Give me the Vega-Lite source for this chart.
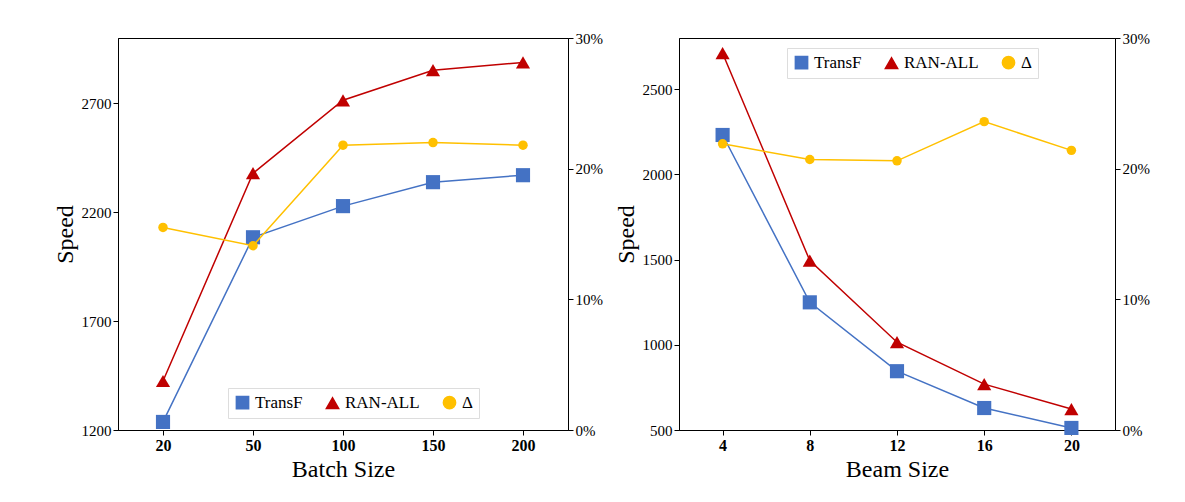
{
  "$schema": "https://vega.github.io/schema/vega-lite/v6.json",
  "padding": {"left": 52, "top": 30, "right": 5, "bottom": 5},
  "datasets": {
    "batch": [
      {"x": "20", "series": "TransF", "v": 1237}, {"x": "50", "series": "TransF", "v": 2085}, {"x": "100", "series": "TransF", "v": 2228}, {"x": "150", "series": "TransF", "v": 2338}, {"x": "200", "series": "TransF", "v": 2370},
      {"x": "20", "series": "RAN-ALL", "v": 1425}, {"x": "50", "series": "RAN-ALL", "v": 2379}, {"x": "100", "series": "RAN-ALL", "v": 2714}, {"x": "150", "series": "RAN-ALL", "v": 2852}, {"x": "200", "series": "RAN-ALL", "v": 2888},
      {"x": "20", "series": "Δ", "v": 0.155}, {"x": "50", "series": "Δ", "v": 0.141}, {"x": "100", "series": "Δ", "v": 0.218}, {"x": "150", "series": "Δ", "v": 0.220}, {"x": "200", "series": "Δ", "v": 0.218}
    ],
    "beam": [
      {"x": "4", "series": "TransF", "v": 2231}, {"x": "8", "series": "TransF", "v": 1249}, {"x": "12", "series": "TransF", "v": 845}, {"x": "16", "series": "TransF", "v": 629}, {"x": "20", "series": "TransF", "v": 512},
      {"x": "4", "series": "RAN-ALL", "v": 2711}, {"x": "8", "series": "RAN-ALL", "v": 1494}, {"x": "12", "series": "RAN-ALL", "v": 1015}, {"x": "16", "series": "RAN-ALL", "v": 769}, {"x": "20", "series": "RAN-ALL", "v": 623},
      {"x": "4", "series": "Δ", "v": 0.219}, {"x": "8", "series": "Δ", "v": 0.207}, {"x": "12", "series": "Δ", "v": 0.206}, {"x": "16", "series": "Δ", "v": 0.236}, {"x": "20", "series": "Δ", "v": 0.214}
    ]
  },
  "hconcat": [
    {
      "width": 450, "height": 392,
      "data": {"name": "batch"},
      "encoding": {
        "x": {"field": "x", "type": "ordinal", "sort": null, "scale": {"type": "point", "padding": 0.5}, "title": "Batch Size", "axis": {"labelAngle": 0}},
        "color": {"field": "series", "type": "nominal", "scale": {"domain": ["TransF", "RAN-ALL", "Δ"], "range": ["#4472C4", "#C00000", "#FFC000"]},
          "legend": {"orient": "none", "legendX": 110, "legendY": 350, "direction": "horizontal", "title": null, "strokeColor": "#ddd", "padding": 6, "columnPadding": 20}},
        "shape": {"field": "series", "type": "nominal", "scale": {"domain": ["TransF", "RAN-ALL", "Δ"], "range": ["square", "triangle-up", "circle"]}}
      },
      "layer": [
        {
          "transform": [{"filter": "datum.series != 'Δ'"}],
          "encoding": {"y": {"field": "v", "type": "quantitative", "title": "Speed", "scale": {"domain": [1200, 3000], "nice": false}, "axis": {"values": [1200, 1700, 2200, 2700], "grid": false, "format": "d"}}},
          "layer": [
            {"mark": {"type": "line", "strokeWidth": 1.5}, "encoding": {"detail": {"field": "series"}}},
            {"mark": {"type": "point", "filled": true, "size": 200, "opacity": 1}}
          ]
        },
        {
          "transform": [{"filter": "datum.series == 'Δ'"}],
          "encoding": {"y": {"field": "v", "type": "quantitative", "title": null, "scale": {"domain": [0, 0.3], "nice": false}, "axis": {"orient": "right", "format": ".0%", "values": [0, 0.1, 0.2, 0.3], "grid": false}}},
          "layer": [
            {"mark": {"type": "line", "strokeWidth": 1.5}},
            {"mark": {"type": "point", "filled": true, "size": 90, "opacity": 1}}
          ]
        }
      ],
      "resolve": {"scale": {"y": "independent"}}
    },
    {
      "width": 436, "height": 392,
      "data": {"name": "beam"},
      "encoding": {
        "x": {"field": "x", "type": "ordinal", "sort": null, "scale": {"type": "point", "padding": 0.5}, "title": "Beam Size", "axis": {"labelAngle": 0}},
        "color": {"field": "series", "type": "nominal", "scale": {"domain": ["TransF", "RAN-ALL", "Δ"], "range": ["#4472C4", "#C00000", "#FFC000"]},
          "legend": {"orient": "none", "legendX": 108, "legendY": 10, "direction": "horizontal", "title": null, "strokeColor": "#ddd", "padding": 6, "columnPadding": 20}},
        "shape": {"field": "series", "type": "nominal", "scale": {"domain": ["TransF", "RAN-ALL", "Δ"], "range": ["square", "triangle-up", "circle"]}}
      },
      "layer": [
        {
          "transform": [{"filter": "datum.series != 'Δ'"}],
          "encoding": {"y": {"field": "v", "type": "quantitative", "title": "Speed", "scale": {"domain": [500, 2800], "nice": false}, "axis": {"values": [500, 1000, 1500, 2000, 2500], "grid": false, "format": "d"}}},
          "layer": [
            {"mark": {"type": "line", "strokeWidth": 1.5}, "encoding": {"detail": {"field": "series"}}},
            {"mark": {"type": "point", "filled": true, "size": 200, "opacity": 1}}
          ]
        },
        {
          "transform": [{"filter": "datum.series == 'Δ'"}],
          "encoding": {"y": {"field": "v", "type": "quantitative", "title": null, "scale": {"domain": [0, 0.3], "nice": false}, "axis": {"orient": "right", "format": ".0%", "values": [0, 0.1, 0.2, 0.3], "grid": false}}},
          "layer": [
            {"mark": {"type": "line", "strokeWidth": 1.5}},
            {"mark": {"type": "point", "filled": true, "size": 90, "opacity": 1}}
          ]
        }
      ],
      "resolve": {"scale": {"y": "independent"}}
    }
  ],
  "spacing": 10,
  "resolve": {"legend": {"color": "independent", "shape": "independent"}},
  "config": {
    "font": "Liberation Serif",
    "view": {"stroke": "#000"},
    "axis": {"labelFont": "Liberation Serif", "titleFont": "Liberation Serif", "labelFontSize": 16, "titleFontSize": 24, "titleFontWeight": "normal", "labelColor": "#000", "titleColor": "#000", "domainColor": "#000", "tickColor": "#000", "labelFontWeight": "bold"},
    "axisY": {"labelFontWeight": "normal", "labelFontSize": 15},
    "legend": {"labelFont": "Liberation Serif", "labelFontSize": 17, "symbolSize": 150, "labelColor": "#000"}
  }
}
